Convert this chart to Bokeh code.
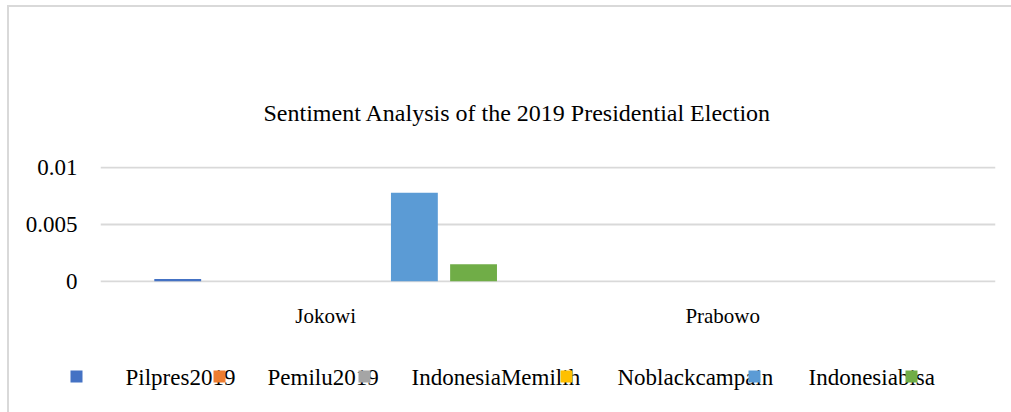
from bokeh.plotting import figure
from bokeh.layouts import column, row
from bokeh.models import ColumnDataSource, Range1d, FixedTicker, CustomJSTickFormatter
from bokeh.core.properties import value
from bokeh.embed import file_html
from bokeh.resources import INLINE

# ---- data ----
categories = ["Jokowi", "Prabowo"]
series_colors = ["#4472C4", "#ED7D31", "#A5A5A5", "#FFC000", "#5B9BD5", "#70AD47"]
jokowi_values = [0.0002, 0.0, 0.0, 0.0, 0.0078, 0.0015]
prabowo_values = [0.0, 0.0, 0.0, 0.0, 0.0, 0.0]
legend_labels = ["Pilpres2019", "Pemilu2019", "IndonesiaMemilih", "Noblackcampain", "Indonesiabisa"]
y_ticks = [0, 0.005, 0.01]

title_text = "Sentiment Analysis of the 2019 Presidential Election"
FONT = "Liberation Serif"

# ---- chart ----
W = 1002
p = figure(width=W, height=333, output_backend="svg", toolbar_location=None,
           x_range=Range1d(-0.067, 2.187), y_range=Range1d(-0.0001, 0.0101),
           min_border_left=91, min_border_right=16, min_border_top=159,
           min_border_bottom=58)
p.outline_line_color = None
p.background_fill_color = "white"
p.border_fill_color = "white"

p.title.text = title_text
p.title.align = "left"
p.title.offset = 163
p.title.standoff = 82
p.title.text_font = FONT
p.title.text_font_size = "24px"
p.title.text_font_style = "normal"
p.title.text_color = "black"

n = len(series_colors)
slot = 0.149
bw = 0.118
for i in range(n):
    xs = [ci + 0.5 + (i - (n - 1) / 2) * slot for ci in range(len(categories))]
    tops = [jokowi_values[i], prabowo_values[i]]
    src = ColumnDataSource(dict(x=xs, top=tops))
    p.vbar(x="x", top="top", bottom=0, width=bw, source=src,
           fill_color=series_colors[i], line_color=None)

p.xgrid.visible = False
p.ygrid.grid_line_color = "#d9d9d9"
p.ygrid.grid_line_width = 2
p.ygrid.ticker = FixedTicker(ticks=y_ticks)

p.yaxis.ticker = FixedTicker(ticks=y_ticks)
p.yaxis.formatter = CustomJSTickFormatter(code="return String(Number(tick.toFixed(6)));")
p.yaxis.axis_line_color = None
p.yaxis.major_tick_line_color = None
p.yaxis.minor_tick_line_color = None
p.yaxis.major_tick_out = 0
p.yaxis.major_label_standoff = 23
p.yaxis.major_label_text_font = FONT
p.yaxis.major_label_text_font_size = "23px"
p.yaxis.major_label_text_color = "black"

p.xaxis.ticker = FixedTicker(ticks=[i + 0.5 for i in range(len(categories))])
p.xaxis.formatter = CustomJSTickFormatter(args=dict(cats=categories),
                                          code="return cats[Math.floor(tick)];")
p.xaxis.axis_line_color = None
p.xaxis.major_tick_line_color = None
p.xaxis.minor_tick_line_color = None
p.xaxis.major_tick_out = 0
p.xaxis.major_label_standoff = 21
p.xaxis.major_label_text_font = FONT
p.xaxis.major_label_text_font_size = "21px"
p.xaxis.major_label_text_color = "black"

# ---- legend strip (texts, then markers drawn over them as in the reference) ----
LH = 72
lg = figure(width=W, height=LH, output_backend="svg", toolbar_location=None,
            x_range=Range1d(0, W), y_range=Range1d(LH, 0),
            min_border=0, min_border_left=0, min_border_right=0,
            min_border_top=0, min_border_bottom=0)
lg.axis.visible = False
lg.grid.visible = False
lg.outline_line_color = None
lg.background_fill_color = "white"
lg.border_fill_color = "white"

label_x = [116, 258, 402, 608, 799]
marker_x = [61, 204, 349, 551, 739, 896]
lg.text(x=label_x, y=[37] * len(legend_labels), text=legend_labels,
        text_align="left", text_baseline="middle", text_font=value(FONT),
        text_font_size="23px", text_color="black")
lg.quad(left=marker_x, right=[m + 12 for m in marker_x],
        top=[30] * len(series_colors), bottom=[42] * len(series_colors),
        fill_color=series_colors, line_color=None)

layout = column(p, row(lg, spacing=0), spacing=0, margin=(5, 0, 0, 7),
                styles={"border-top": "2px solid #d9d9d9",
                        "border-left": "2px solid #d9d9d9"})

open("out.html", "w").write(file_html(layout, INLINE))
